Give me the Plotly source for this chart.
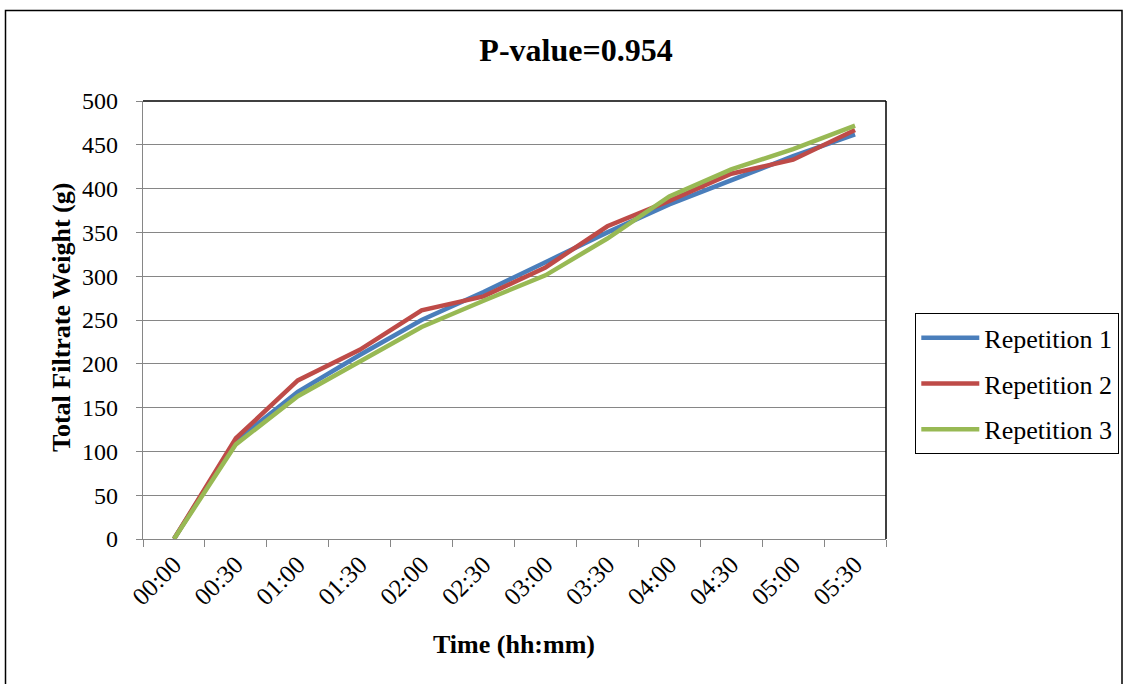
import plotly.graph_objects as go

W, H = 1130, 684
ML, MR, MT, MB = 143, 244, 101, 145
PW, PH = W - ML - MR, H - MT - MB

times = ["00:00", "00:30", "01:00", "01:30", "02:00", "02:30",
         "03:00", "03:30", "04:00", "04:30", "05:00", "05:30"]
rep1 = [0, 112, 168, 210, 250, 282, 316, 350, 382, 409, 437, 462]
rep2 = [0, 115, 181, 216, 261, 277, 310, 357, 386, 417, 433, 467]
rep3 = [0, 108, 163, 202, 242, 272, 301, 343, 391, 422, 445, 472]
series_names = ["Repetition 1", "Repetition 2", "Repetition 3"]
colors = ["#4A7EBB", "#BE4B48", "#98B954"]

FONT = "Liberation Serif, Times New Roman, serif"

def px(x):
    return (x - ML) / PW

def py(y):
    return 1 - (y - MT) / PH

fig = go.Figure()
for i, (name, vals, c) in enumerate(zip(series_names, [rep1, rep2, rep3], colors)):
    fig.add_trace(go.Scatter(x=times, y=vals, name=name, mode="lines",
                             legendgroup=f"g{i}",
                             line=dict(color=c, width=4.5)))

fig.update_layout(
    width=W, height=H,
    margin=dict(l=ML, r=MR, t=MT, b=MB, autoexpand=False),
    paper_bgcolor="white", plot_bgcolor="white",
    font=dict(family=FONT, color="black", size=24),
    title=dict(text="<b>P-value=0.954</b>", x=576 / W, xref="container",
               y=1 - 50 / H, yref="container", xanchor="center", yanchor="middle",
               font=dict(size=32, family=FONT, color="black")),
    xaxis=dict(type="category", range=[-0.5, 11.5], tickson="boundaries",
               ticks="outside", ticklen=7, tickcolor="#868686", tickwidth=1.3,
               showline=True, linecolor="#868686", linewidth=1.3,
               showgrid=False, tickangle=-45, tickfont=dict(size=25, family=FONT),
               automargin=False),
    yaxis=dict(range=[0, 500], dtick=50, ticks="outside", ticklen=6,
               tickcolor="#868686", tickwidth=1.3,
               showline=True, linecolor="#868686", linewidth=1.3,
               showgrid=True, gridcolor="#868686", gridwidth=1.3, zeroline=False,
               tickfont=dict(size=24, family=FONT), ticklabelstandoff=13,
               automargin=False),
    legend=dict(x=915 / W, y=1 - 313 / H, xref="container", yref="container",
                xanchor="left", yanchor="top", bordercolor="black", borderwidth=1.3,
                bgcolor="white", font=dict(size=26, family=FONT),
                itemwidth=58, tracegroupgap=9),
    showlegend=True,
)

fig.add_annotation(text="<b>Total Filtrate Weight (g)</b>", textangle=-90,
                   x=px(61), y=py(318), xref="paper", yref="paper",
                   showarrow=False, font=dict(size=26, family=FONT),
                   xanchor="center", yanchor="middle")
fig.add_annotation(text="<b>Time (hh:mm)</b>", x=px(514), y=py(644),
                   xref="paper", yref="paper", showarrow=False,
                   font=dict(size=26, family=FONT), xanchor="center", yanchor="middle")

# outer chart border
fig.add_shape(type="rect", xref="paper", yref="paper",
              x0=px(5.5), x1=px(1122), y0=py(700), y1=py(10.5),
              line=dict(color="black", width=1.5), fillcolor="rgba(0,0,0,0)", layer="below")
# plot area border (top and right)
fig.add_shape(type="line", xref="paper", yref="paper", x0=0, x1=1, y0=1, y1=1,
              line=dict(color="black", width=1.5), layer="above")
fig.add_shape(type="line", xref="paper", yref="paper", x0=1, x1=1, y0=0, y1=1,
              line=dict(color="black", width=1.5), layer="above")

fig.write_html("out.html")
